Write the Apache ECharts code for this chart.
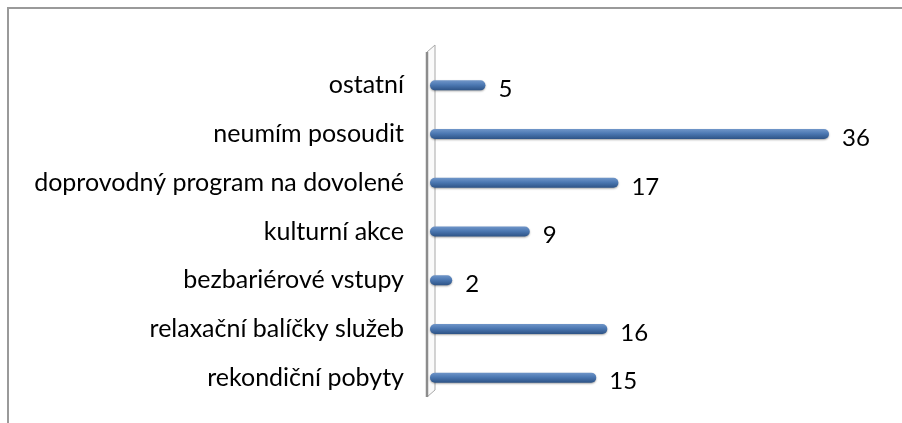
<!DOCTYPE html>
<html>
<head>
<meta charset="utf-8">
<script src="https://cdn.jsdelivr.net/npm/echarts@6/dist/echarts.min.js"></script>
<style>
  html, body { margin: 0; padding: 0; background: #fff; }
  #chart { width: 902px; height: 423px; }
</style>
</head>
<body>
<div id="chart"></div>
<script>
// kategorie a hodnoty (odshora dolů)
var categories = ['ostatní', 'neumím posoudit', 'doprovodný program na dovolené', 'kulturní akce',
  'bezbariérové vstupy', 'relaxační balíčky služeb', 'rekondiční pobyty'];
var values = [5, 36, 17, 9, 2, 16, 15];
var axisMax = 36;

var myChart = echarts.init(document.getElementById('chart'));

var option = {
  animation: false,
  grid: { left: 430, right: 73, top: 61, bottom: 21, containLabel: false },
  xAxis: {
    type: 'value',
    min: 0,
    max: axisMax,
    show: false
  },
  yAxis: {
    type: 'category',
    inverse: true,
    data: categories,
    axisLine: { show: false },
    axisTick: { show: false },
    axisLabel: {
      margin: 26,
      color: '#000',
      fontFamily: 'Lato',
      fontSize: 25,
      padding: [0, 0, 12, 0]
    }
  },
  series: [
    {
      name: 'počet',
      type: 'bar',
      data: values,
      barWidth: 10,
      itemStyle: {
        borderRadius: 5,
        color: new echarts.graphic.LinearGradient(0, 0, 0, 1, [
          { offset: 0, color: '#7096c9' },
          { offset: 0.45, color: '#4c78b2' },
          { offset: 1, color: '#2d5386' }
        ]),
        shadowBlur: 2,
        shadowColor: 'rgba(0,0,0,0.35)',
        shadowOffsetY: 1
      },
      label: {
        show: true,
        position: 'right',
        distance: 13,
        color: '#000',
        fontFamily: 'Lato',
        fontSize: 24,
        offset: [0, 4]
      }
    }
  ],
  graphic: [
    // rámeček grafu
    {
      type: 'polyline',
      shape: { points: [[8, 430], [8, 8], [910, 8]] },
      style: { stroke: '#9a9a9a', lineWidth: 2, fill: null }
    },
    // boční stěna
    {
      type: 'polygon',
      shape: { points: [[427, 52], [435, 45], [435, 390], [427, 397]] },
      style: { fill: '#fafafa', stroke: '#a8a8a8', lineWidth: 1 }
    },
    {
      type: 'polyline',
      shape: { points: [[427, 52], [427, 397]] },
      style: { stroke: '#8c8c8c', lineWidth: 2.5, fill: null }
    }
  ]
};
myChart.setOption(option);
</script>
</body>
</html>
